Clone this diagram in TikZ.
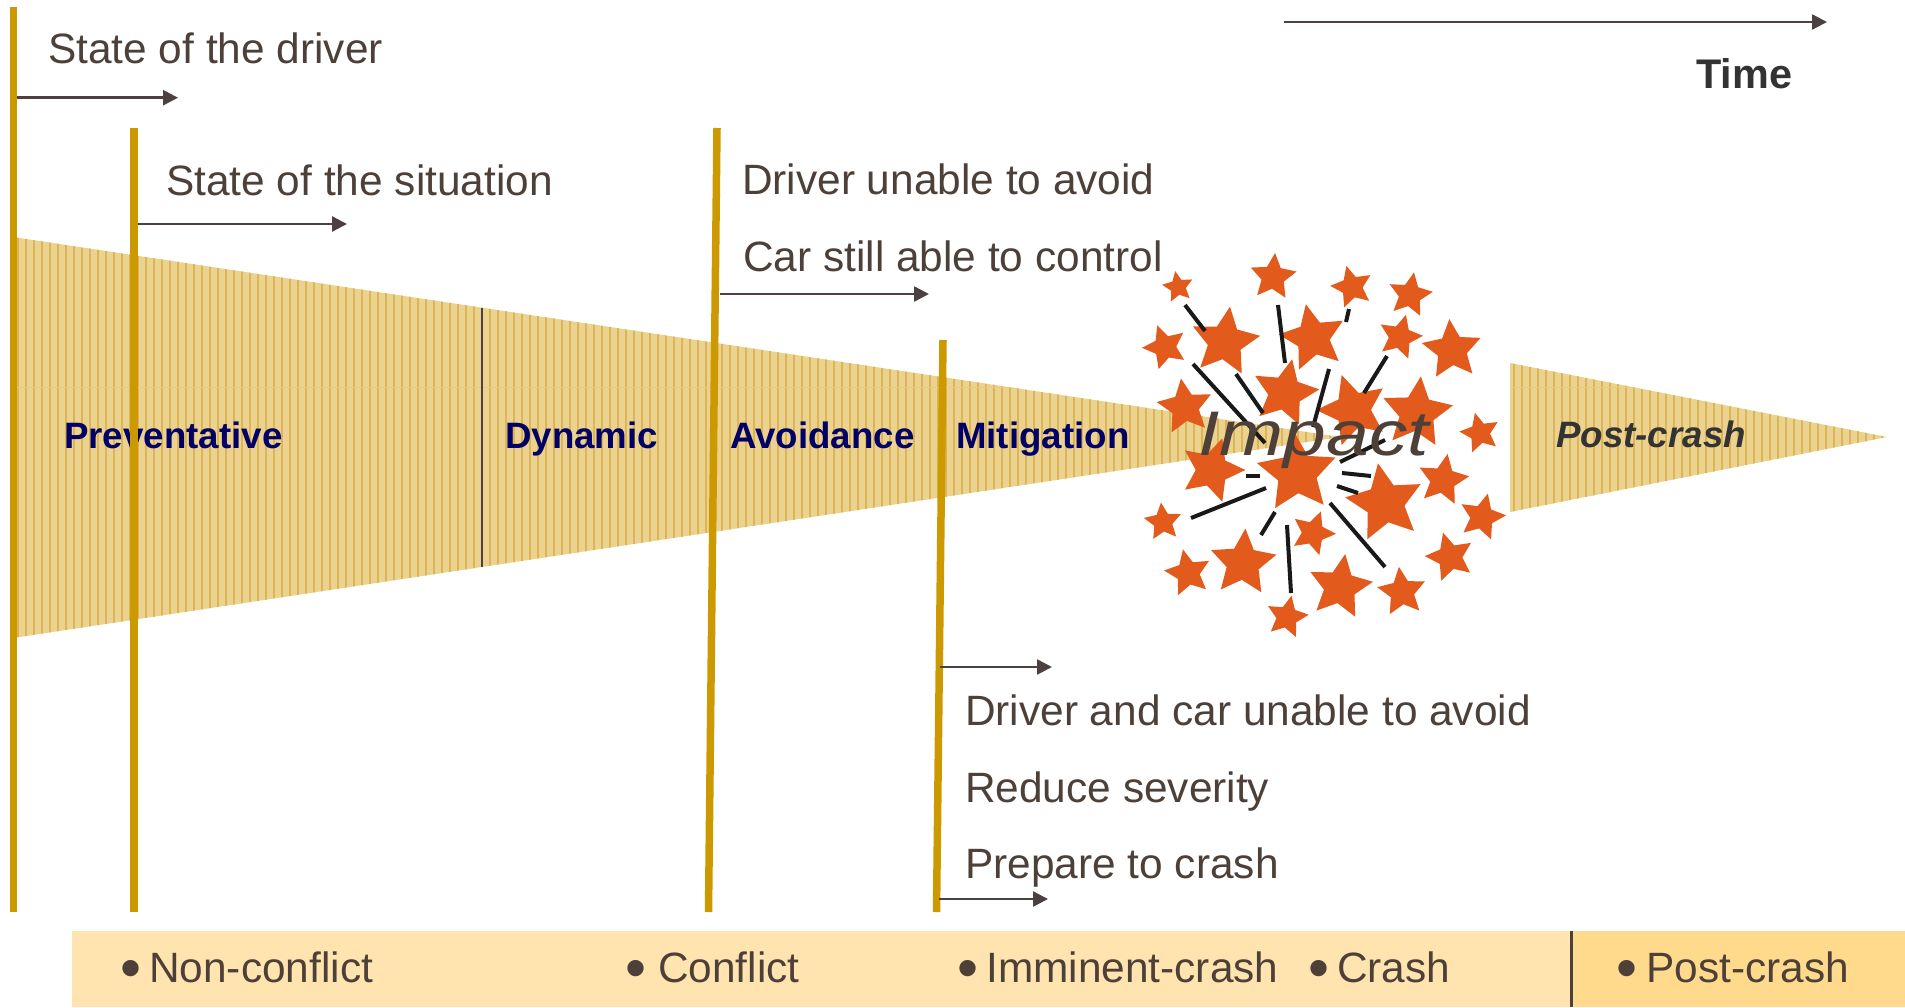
\documentclass[tikz,border=0pt]{standalone}
\usepackage{fontspec}
\setmainfont{Liberation Sans}
\usetikzlibrary{arrows.meta,shapes.geometric}
\definecolor{goldc}{HTML}{CC9900}
\definecolor{arrc}{HTML}{4D4040}
\definecolor{txtc}{HTML}{4D4039}
\definecolor{navyc}{HTML}{000066}
\definecolor{darkc}{HTML}{333333}
\definecolor{starc}{HTML}{E25A1C}
\definecolor{wedgefill}{HTML}{ECD290}
\definecolor{wedgeln}{HTML}{DDB654}
\definecolor{stripA}{HTML}{FFE4AF}
\definecolor{stripB}{HTML}{FFD98C}
\tikzset{
  goldline/.style={draw=goldc, line width=7.5pt},
  arr/.style={draw=arrc, line width=2.5pt, -{Triangle[length=15pt,width=15pt]}},
  txt/.style={anchor=base west, inner sep=0pt, text=txtc, font=\fontsize{42.4}{50}\selectfont},
  lbl/.style={anchor=base west, inner sep=0pt, text=navyc, font=\fontsize{36.7}{44}\selectfont\bfseries},
  bul/.style={anchor=center, inner sep=0pt, text=txtc, font=\fontsize{60}{64}\selectfont},
  starnode/.style={star, star points=5, star point ratio=2.05, inner sep=0pt, fill=starc, draw=none},
  burstline/.style={draw=black!90, line width=4pt},
  wedgeline/.style={draw=wedgeln, line width=1.1pt},
}
\begin{document}
\begin{tikzpicture}[x=1pt,y=-1pt]
\useasboundingbox (0,0) rectangle (1905,1007);
\fill[white] (0,0) rectangle (1905,1007);

% main wedge
\begin{scope}
  \clip (13,237) -- (1340,437) -- (13,638) -- cycle;
  \fill[wedgefill] (0,230) rectangle (1345,645);
  \foreach \xx in {18,26,...,1340} \draw[wedgeline] (\xx,230) -- (\xx,645);
  \draw[wedgeln!70, line width=0.8pt] (0,387) -- (1345,387);
\end{scope}
% post-crash wedge
\begin{scope}
  \clip (1510,363) -- (1887,437) -- (1510,512) -- cycle;
  \fill[wedgefill] (1505,360) rectangle (1890,515);
  \foreach \xx in {1514,1522,...,1887} \draw[wedgeline] (\xx,360) -- (\xx,515);
  \draw[wedgeln!70, line width=0.8pt] (1505,387) -- (1890,387);
\end{scope}
% divider inside wedge
\draw[arrc, line width=2pt] (482,307.5) -- (482,567);

% phase labels
\node[lbl] (prev) at (64,448) {Preventative};
\node[lbl] (dyn) at (505,448) {Dynamic};
\node[lbl] (avoid) at (730,448) {Avoidance};
\node[lbl] (mitig) at (956,448) {Mitigation};
\node[lbl, text=darkc, font=\fontsize{36.7}{44}\selectfont\bfseries\itshape] (postw) at (1556,447) {Post-crash};

% gold lines
\coordinate (g1t) at (13.5,7);   \coordinate (g1b) at (13.5,912);
\coordinate (g2t) at (134,128);  \coordinate (g2b) at (134,912);
\coordinate (g3t) at (717,128);  \coordinate (g3b) at (708.5,912);
\coordinate (g4t) at (943,340);  \coordinate (g4b) at (936.5,912);
\draw[goldline] (g1t) -- (g1b);
\draw[goldline] (g2t) -- (g2b);
\draw[goldline] (g3t) -- (g3b);
\draw[goldline] (g4t) -- (g4b);

% arrows
\coordinate (a1s) at (17,97.7);   \coordinate (a1e) at (178,97.7);
\coordinate (a2s) at (138,224);   \coordinate (a2e) at (347,224);
\coordinate (a3s) at (720,294);   \coordinate (a3e) at (929,294);
\coordinate (a4s) at (940,667);   \coordinate (a4e) at (1052,667);
\coordinate (a5s) at (939,899);   \coordinate (a5e) at (1048,899);
\coordinate (ts) at (1284,22);    \coordinate (te) at (1827,22);
\draw[arr] (a1s) -- (a1e);
\draw[arr] (a2s) -- (a2e);
\draw[arr] (a3s) -- (a3e);
\draw[arr] (a4s) -- (a4e);
\draw[arr] (a5s) -- (a5e);
\draw[arr] (ts) -- (te);

% texts
\node[txt] (t1) at (48,63.3) {State of the driver};
\node[txt] (t2) at (166,195) {State of the situation};
\node[txt] (t3) at (742,194) {Driver unable to avoid};
\node[txt] (t4) at (743,271) {Car still able to control};
\node[txt] (t5) at (965,725) {Driver and car unable to avoid};
\node[txt] (t6) at (965,802) {Reduce severity};
\node[txt] (t7) at (965,878) {Prepare to crash};
\node[anchor=base west, inner sep=0pt, text=darkc, font=\fontsize{41.4}{48}\selectfont\bfseries] (time) at (1696,88) {Time};

% stars
\foreach \x/\y/\r/\a [count=\i] in {
  1178/287/14/10, 1273/277/21/-5, 1352/287/19/15, 1410/295/20/-10,
  1165/347/20/20, 1225/342/31/-8, 1313/338/30/12, 1400/337/20/-15,
  1452/350/27/5, 1285/393/30/-12, 1185/407/25/8, 1353/410/32/18,
  1417/413/32/-6, 1480/433/18/14, 1212/470/29/-18, 1297/473/36/4,
  1443/480/23/-10, 1385/503/35/10, 1482/517/21/-14, 1163/522/17/6,
  1313/533/20/-20, 1188/573/21/12, 1243/563/30/-4, 1450/557/22/16,
  1340/587/29/-9, 1402/592/22/7, 1287/617/19/-12}
  \node[starnode, minimum size={2.3*\r pt}, rotate=\a] (star\i) at (\x,\y) {};

% burst dashes
\foreach \xa/\ya/\xb/\yb [count=\i] in {
  1185/305/1205/331, 1278/305/1285/363, 1349/309/1346/322,
  1193/364/1265/443, 1236/374/1263/413, 1329/369/1313/427,
  1387/356/1364/393, 1385/440/1340/462, 1246/476/1260/476,
  1342/473/1371/476, 1337/486/1358/493, 1266/488/1191/518,
  1275/512/1261/535, 1287/525/1291/593, 1330/503/1385/567}
  \draw[burstline] (\xa,\ya) -- (\xb,\yb);

% Impact
\node[anchor=base west, inner sep=0pt, text=txtc, font=\fontsize{63}{70}\selectfont\itshape, xscale=1.22] (impact) at (1198,455) {Impact};

% bottom strip
\fill[stripA] (72,931) rectangle (1571,1007);
\fill[stripB] (1571,931) rectangle (1905,1007);
\draw[arrc, line width=3pt] (1571,931) -- (1571,1007);

\node[bul] (b1) at (131,974) {•};
\node[txt] (s1) at (149,982) {Non-conflict};
\node[bul] (b2) at (636,974) {•};
\node[txt] (s2) at (658,982) {Conflict};
\node[bul] (b3) at (968,974) {•};
\node[txt] (s3) at (986,982) {Imminent-crash};
\node[bul] (b4) at (1319,974) {•};
\node[txt] (s4) at (1337,982) {Crash};
\node[bul] (b5) at (1627,974) {•};
\node[txt] (s5) at (1646,982) {Post-crash};
\end{tikzpicture}
\end{document}
